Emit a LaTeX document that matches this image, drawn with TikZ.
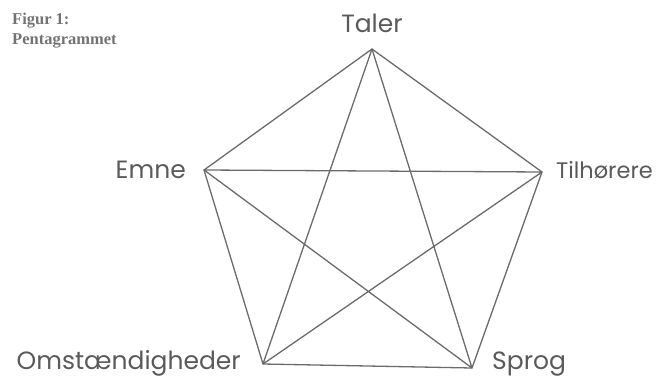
\documentclass[tikz,border=0pt]{standalone}
\usepackage{fontspec}
\setmainfont{Liberation Serif}
\newfontfamily\labelfont{Poppins}
\definecolor{ink}{HTML}{5A5A5A}
\begin{document}
\begin{tikzpicture}[x=1pt,y=1pt,
  edge/.style={draw=ink!90, line width=1.3pt},
  lbl/.style={text=ink, font=\labelfont\fontsize{25}{28}\selectfont, inner sep=0pt},
  ttl/.style={text=ink!85, font=\bfseries\fontsize{16.5}{19}\selectfont, inner sep=0pt, anchor=base west}]
\useasboundingbox (0,0) rectangle (661,378);
\coordinate (T) at (372,329);
\coordinate (L) at (204,208);
\coordinate (R) at (542,206);
\coordinate (BL) at (263,14);
\coordinate (BR) at (472,10);
\draw[edge, line join=miter] (T) -- (L) -- (BL) -- (BR) -- (R) -- cycle;
\draw[edge] (T) -- (BL) (T) -- (BR) (L) -- (R) (L) -- (BR) (R) -- (BL);
\node[lbl, anchor=base] (tT) at (372,345) {Taler};
\node[lbl, anchor=base east] (tL) at (186,200) {Emne};
\node[lbl, anchor=base west, font=\labelfont\fontsize{22.5}{26}\selectfont] (tR) at (556,199) {Tilhørere};
\node[lbl, anchor=base east] (tBL) at (241,9) {Omstændigheder};
\node[lbl, anchor=base west] (tBR) at (492,9) {Sprog};
\node[ttl] (f1) at (12,353) {Figur 1:};
\node[ttl] (f2) at (12,333) {Pentagrammet};
\end{tikzpicture}
\end{document}
